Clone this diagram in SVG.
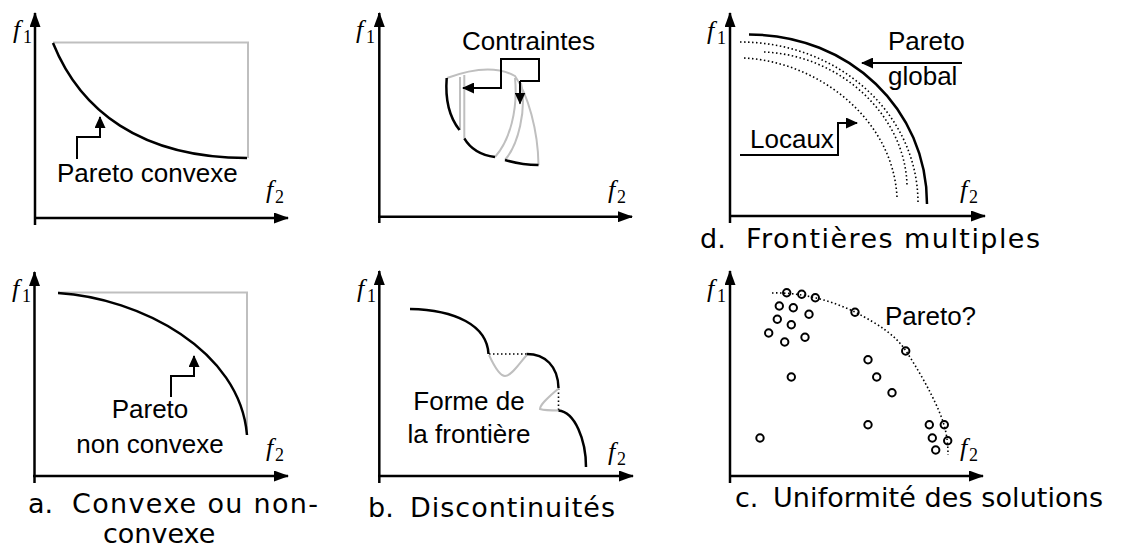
<svg xmlns="http://www.w3.org/2000/svg" width="1123" height="552" viewBox="0 0 1123 552">
<defs>
<marker id="axArrow" viewBox="0 0 15 11" refX="14" refY="5.5" markerWidth="15" markerHeight="11" markerUnits="userSpaceOnUse" orient="auto"><path d="M0,0 L15,5.5 L0,11 Z" fill="#000"/></marker>
<marker id="arr" viewBox="0 0 12 11" refX="11" refY="5.5" markerWidth="12" markerHeight="11" markerUnits="userSpaceOnUse" orient="auto"><path d="M0,0 L12,5.5 L0,11 Z" fill="#000"/></marker>
</defs>
<style>
.axis{stroke:#000;stroke-width:2.5;fill:none;marker-end:url(#axArrow)}
.curve{stroke:#000;stroke-width:2.5;fill:none}
.gray{stroke:#BFBFBF;stroke-width:2;fill:none}
.dot{stroke:#000;stroke-width:1.6;fill:none;stroke-dasharray:1.5 2.5}
.conn{stroke:#000;stroke-width:2;fill:none;marker-end:url(#arr)}
.lbl{font-family:"Liberation Sans",Arial,sans-serif;font-size:26px;fill:#000}
.mid{text-anchor:middle}
.cap{font-family:"DejaVu Sans",Verdana,sans-serif;font-size:27px;fill:#000}
.f{font-family:"Liberation Serif","Times New Roman",serif;font-style:italic;font-size:26px;fill:#000}
.sub{font-style:normal;font-size:18px}
.pt{stroke:#000;stroke-width:2;fill:none}
</style>
<rect width="1123" height="552" fill="#fff"/>

<g id="panel-a-top">
<path class="axis" d="M35,225 L35,13"/>
<path class="axis" d="M34,218 L288,218"/>
<path class="gray" d="M53,42.5 L248,42.5 L248,158"/>
<path class="curve" d="M53,43 C80,110 140,158 247,158"/>
<text class="lbl" x="57" y="182">Pareto convexe</text>
<text class="f" x="13" y="38">f<tspan class="sub" x="23" y="43">1</tspan></text>
<text class="f" x="266" y="198">f<tspan class="sub" x="275" y="203">2</tspan></text>
</g>

<g id="panel-a-bottom">
<path class="axis" d="M34.5,483 L34.5,272"/>
<path class="axis" d="M33,476 L288,476"/>
<path class="gray" d="M58,292.5 L247,292.5 L247,435"/>
<path class="curve" d="M58,293 C140,298 240,350 247,435"/>
<text class="lbl mid" x="150" y="418">Pareto</text>
<text class="lbl mid" x="150" y="453">non convexe</text>
<text class="f" x="12" y="297">f<tspan class="sub" x="22" y="302">1</tspan></text>
<text class="f" x="266" y="456">f<tspan class="sub" x="275" y="461">2</tspan></text>
<text class="cap" x="28" y="513">a.</text>
<text class="cap" x="72" y="513" textLength="246" lengthAdjust="spacing">Convexe ou non-</text>
<text class="cap" x="103" y="543">convexe</text>
</g>

<g id="panel-b-top">
<path class="axis" d="M379.3,223 L379.3,13"/>
<path class="axis" d="M378,216.7 L632,216.7"/>
<path class="gray" d="M447,78 Q490,62 515,76 C528,95 538,130 538.5,165"/>
<path class="gray" d="M460,77 L460,130"/>
<path class="gray" d="M464.3,75 L464.3,138"/>
<path class="gray" d="M495,157 C510,140 518,110 515,78"/>
<path class="gray" d="M505,160 C518,145 527,110 521,83"/>
<path class="curve" d="M446.7,78 C445,100 450,118 459.5,130"/>
<path class="curve" d="M464.3,138.3 C470,148 480,155 495,157"/>
<path class="curve" d="M505,160 C515,163 527,165 538.5,165"/>
<text class="lbl" x="462" y="50">Contraintes</text>
<text class="f" x="356" y="38">f<tspan class="sub" x="366" y="43">1</tspan></text>
<text class="f" x="608" y="198">f<tspan class="sub" x="617" y="203">2</tspan></text>
</g>

<g id="panel-b-bottom">
<path class="axis" d="M379.3,483 L379.3,271"/>
<path class="axis" d="M378,476 L633,476"/>
<path class="curve" d="M410,309 C455,310 487,325 488.5,354"/>
<path class="dot" d="M489,354 L527,354"/>
<path class="gray" d="M489,355 C495,368 500,376 505,376 C512,376 520,362 527,355"/>
<path class="curve" d="M526.7,354 C545,354 558,366 558.5,388"/>
<path class="dot" d="M558.5,388.5 L558.5,410"/>
<path class="gray" d="M558.5,388.5 C550,396 540,404 540,409 C545,410.5 552,410.5 558.5,410.5"/>
<path class="curve" d="M558.5,410.5 C575,412 586,440 586,467"/>
<text class="lbl mid" x="469" y="410">Forme de</text>
<text class="lbl mid" x="469" y="443">la frontière</text>
<text class="f" x="357" y="297">f<tspan class="sub" x="367" y="302">1</tspan></text>
<text class="f" x="608" y="460">f<tspan class="sub" x="617" y="465">2</tspan></text>
<text class="cap" x="368" y="517">b.</text>
<text class="cap" x="410" y="517" textLength="205" lengthAdjust="spacing">Discontinuités</text>
</g>

<g id="panel-d-top">
<path class="axis" d="M730,223 L730,13"/>
<path class="axis" d="M729,216 L985,216"/>
<path class="curve" d="M749,34.5 C850,34.5 927,110 927,204"/>
<path class="dot" d="M740,42 C840,42 918,115 918,203"/>
<path class="dot" d="M764,52 C840,55 905,115 907,185"/>
<path class="dot" d="M744,58 C820,62 893,120 897,197"/>
<text class="lbl" x="888" y="50">Pareto</text>
<text class="lbl" x="888" y="85">global</text>
<text class="lbl" x="750" y="148">Locaux</text>
<text class="f" x="707" y="39">f<tspan class="sub" x="717" y="44">1</tspan></text>
<text class="f" x="960" y="198">f<tspan class="sub" x="969" y="203">2</tspan></text>
<text class="cap" x="700" y="248">d.</text>
<text class="cap" x="746" y="248" textLength="294" lengthAdjust="spacing">Frontières multiples</text>
</g>

<g id="panel-c-bottom">
<path class="axis" d="M730,483 L730,271"/>
<path class="axis" d="M729,476 L983,476"/>
<path class="dot" d="M772,293 C800,292 830,300 855,312 C880,325 895,335 906,351 C925,380 940,410 944,425 C947,435 948,445 948,455"/>
<g class="pt">
<circle cx="786.7" cy="292.7" r="3.7"/>
<circle cx="801.7" cy="294.3" r="3.7"/>
<circle cx="815.3" cy="297.7" r="3.7"/>
<circle cx="779.3" cy="306" r="3.7"/>
<circle cx="793.3" cy="307.7" r="3.7"/>
<circle cx="809" cy="314.3" r="3.7"/>
<circle cx="777.3" cy="319.3" r="3.7"/>
<circle cx="791.3" cy="324.7" r="3.7"/>
<circle cx="768.7" cy="333" r="3.7"/>
<circle cx="784.7" cy="342" r="3.7"/>
<circle cx="805" cy="337.3" r="3.7"/>
<circle cx="855" cy="312.3" r="3.7"/>
<circle cx="905.7" cy="351" r="3.7"/>
<circle cx="868" cy="359.7" r="3.7"/>
<circle cx="876.7" cy="377" r="3.7"/>
<circle cx="892" cy="392.7" r="3.7"/>
<circle cx="791.3" cy="377" r="3.7"/>
<circle cx="868" cy="424.7" r="3.7"/>
<circle cx="760" cy="438" r="3.7"/>
<circle cx="929.3" cy="424.7" r="3.7"/>
<circle cx="944.3" cy="424.7" r="3.7"/>
<circle cx="932.3" cy="438" r="3.7"/>
<circle cx="947.7" cy="440.7" r="3.7"/>
<circle cx="935.7" cy="450" r="3.7"/>
</g>
<text class="lbl" x="885" y="325">Pareto?</text>
<text class="f" x="707" y="297">f<tspan class="sub" x="717" y="302">1</tspan></text>
<text class="f" x="960" y="456">f<tspan class="sub" x="969" y="461">2</tspan></text>
<text class="cap" x="735" y="507">c.</text>
<text class="cap" x="773" y="507" textLength="330" lengthAdjust="spacing">Uniformité des solutions</text>
</g>

<g id="connectors">
<path class="conn" d="M77,159 L77,137 L100,137 L100,117"/>
<path class="conn" d="M171,397 L171,376 L194,376 L194,356"/>
<path class="conn" d="M520,81 L539,81 L539,59 L501,59 L501,88 L463,88"/>
<path class="conn" d="M520,81 L520,103.5"/>
<path class="conn" d="M962,63 L862,63"/>
<path class="conn" d="M740,155 L838,155 L838,123 L857,123"/>
</g>
</svg>
